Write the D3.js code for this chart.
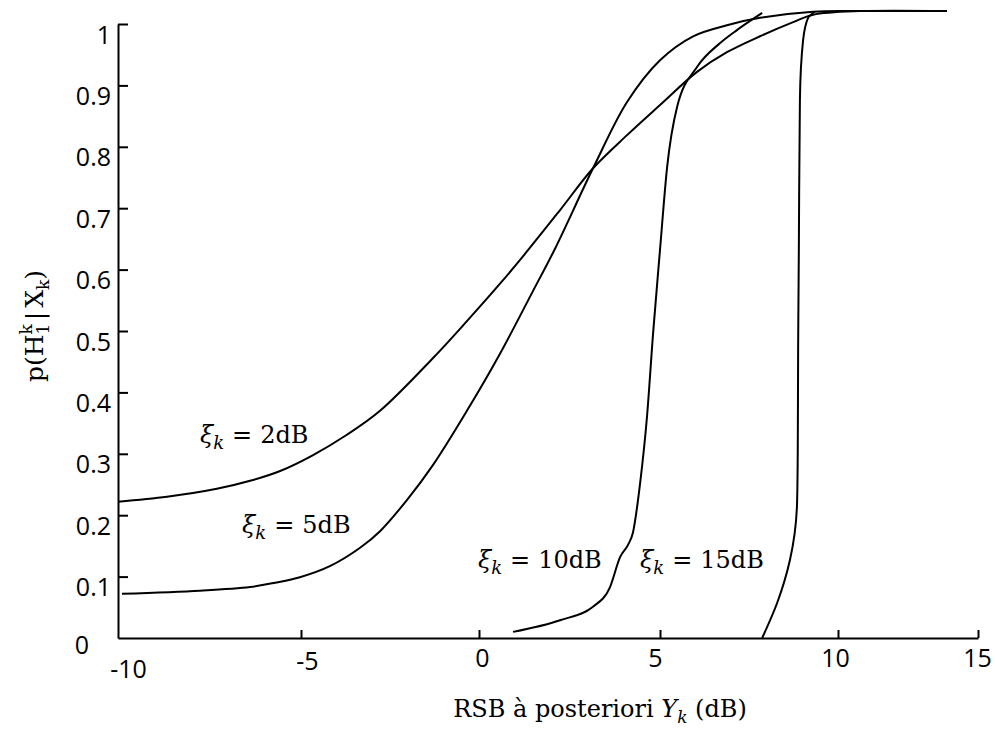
<!DOCTYPE html>
<html>
<head>
<meta charset="utf-8">
<script src="https://cdn.jsdelivr.net/npm/d3@7"></script>
<style>
  body { margin: 0; background: #fff; }
  svg { display: block; }
</style>
</head>
<body>
<script>
// values
var xTicks = [-10, -5, 0, 5, 10, 15];
var yTicks = [0, 0.1, 0.2, 0.3, 0.4, 0.5, 0.6, 0.7, 0.8, 0.9, 1];

var xiLabels = ["2", "5", "10", "15"];   // xi_k in dB

var snr2  = [-10, -8.66, -7.30, -6.39, -5.57, -4.66, -3.71, -2.78, -1.29, -0.34, 0.58, 1.22, 2.24, 3.15, 4.09, 5.00, 6.04, 6.88, 7.81, 8.74, 9.30, 10.79, 13.89];
var prob2 = [0.222, 0.230, 0.243, 0.256, 0.272, 0.298, 0.331, 0.370, 0.456, 0.516, 0.577, 0.622, 0.697, 0.765, 0.819, 0.868, 0.922, 0.954, 0.980, 1.003, 1.015, 1.021, 1.021];

var snr5  = [-9.89, -7.76, -6.39, -5.71, -5.03, -4.19, -3.34, -2.78, -2.02, -1.29, -0.34, 0.58, 1.49, 2.10, 3.15, 4.09, 5.00, 5.93, 6.88, 7.81, 9.30, 10.79, 13.89];
var prob5 = [0.072, 0.077, 0.083, 0.090, 0.099, 0.117, 0.147, 0.174, 0.225, 0.282, 0.370, 0.463, 0.565, 0.634, 0.765, 0.873, 0.941, 0.980, 0.998, 1.010, 1.020, 1.021, 1.021];

var snr10  = [0.94, 2.24, 3.15, 3.62, 3.90, 4.12, 4.25, 4.45, 4.64, 4.81, 5.00, 5.20, 5.48, 6.04, 6.69, 7.16, 7.87];
var prob10 = [0.010, 0.029, 0.051, 0.083, 0.132, 0.152, 0.171, 0.252, 0.360, 0.497, 0.632, 0.767, 0.865, 0.930, 0.969, 0.990, 1.018];

var snr15  = [7.87, 8.29, 8.65, 8.85, 8.87, 8.88, 8.90, 8.93, 9.02, 9.16, 9.35];
var prob15 = [0, 0.057, 0.127, 0.220, 0.306, 0.469, 0.632, 0.876, 0.974, 1.010, 1.020];

// where each curve label sits, in chart units (start of text, baseline)
var labelSnr  = [-7.76, -6.61, -0.03, 4.45];
var labelProb = [0.318, 0.171, 0.114, 0.114];

var W = 995, H = 731;

// the x axis of the original is not evenly spaced, so a polylinear scale
var xRange = [118, 301, 479, 660, 838, 978];
var x = d3.scaleLinear().domain(xTicks).range(xRange);
var y = d3.scaleLinear().domain([0, 1]).range([638, 24]);

var svg = d3.select("body").append("svg")
  .attr("width", W)
  .attr("height", H);

var serif = "'DejaVu Serif', 'Liberation Serif', serif";
var sans = "'Open Sans', 'Liberation Sans', sans-serif";

// x axis
var xAxis = svg.append("g")
  .attr("transform", "translate(0," + y(0) + ")")
  .call(d3.axisBottom(x).tickValues(xTicks).tickSize(-8).tickSizeOuter(0)
    .tickFormat(function(d) { return String(d); }));

xAxis.select(".domain").attr("stroke", "#000").attr("stroke-width", 2);
xAxis.selectAll(".tick line").attr("stroke", "#000").attr("stroke-width", 2);
xAxis.selectAll(".tick line").filter(function(d) { return d === -10; }).remove();
// label nudges so they land where the original put them
var xNudge = {"-10": [10, 11], "-5": [6, 3], "0": [3, 0], "5": [-5, 0], "10": [-3, 0], "15": [-1, 0]};
xAxis.selectAll(".tick text")
  .attr("font-family", sans)
  .attr("font-size", 25)
  .attr("fill", "#000")
  .attr("dy", null)
  .attr("x", function(d) { return xNudge[d][0]; })
  .attr("y", function(d) { return 29 + xNudge[d][1]; });

// y axis
var yAxis = svg.append("g")
  .attr("transform", "translate(" + xRange[0] + ",0)")
  .call(d3.axisLeft(y).tickValues(yTicks).tickSize(-10).tickSizeOuter(0).tickPadding(7)
    .tickFormat(function(d) { return String(d); }));

yAxis.select(".domain").attr("stroke", "#000").attr("stroke-width", 2);
yAxis.selectAll(".tick line").attr("stroke", "#000").attr("stroke-width", 2);
yAxis.selectAll(".tick line").filter(function(d) { return d === 0; }).remove();
yAxis.selectAll(".tick text")
  .attr("font-family", sans)
  .attr("font-size", 25)
  .attr("fill", "#000")
  .attr("dy", null)
  .attr("y", function(d) { return d === 0 ? 15 : 19; })
  .attr("x", function(d) { return d === 0 ? -29 : -7; });

// curves; the near-vertical 15 dB one is smoothed along y
var series = [
  {snr: snr2, prob: prob2, curve: d3.curveCatmullRom.alpha(0.5)},
  {snr: snr5, prob: prob5, curve: d3.curveCatmullRom.alpha(0.5)},
  {snr: snr10, prob: prob10, curve: d3.curveMonotoneX},
  {snr: snr15, prob: prob15, curve: d3.curveMonotoneY}
];

svg.append("g").selectAll("path")
  .data(series)
  .enter()
  .append("path")
  .attr("d", function(s) {
    return d3.line()
      .x(function(d) { return x(d[0]); })
      .y(function(d) { return y(d[1]); })
      .curve(s.curve)(d3.zip(s.snr, s.prob));
  })
  .attr("fill", "none")
  .attr("stroke", "#000")
  .attr("stroke-width", 2);

// curve labels  xi_k = ..dB
var lab = svg.append("g").selectAll("text")
  .data(xiLabels)
  .enter()
  .append("text")
  .attr("x", function(d, i) { return x(labelSnr[i]); })
  .attr("y", function(d, i) { return y(labelProb[i]); })
  .attr("font-family", serif)
  .attr("font-size", 24)
  .attr("fill", "#000");

lab.append("tspan").attr("font-style", "italic").text("ξ");
lab.append("tspan").attr("font-style", "italic").attr("font-size", 18).attr("dy", 6).text("k");
lab.append("tspan").attr("dy", -6).attr("dx", 8).text("=");
lab.append("tspan").attr("dx", 8).text(function(d) { return d + "dB"; });

// x title
var xt = svg.append("text")
  .attr("x", 600)
  .attr("y", 717)
  .attr("text-anchor", "middle")
  .attr("font-family", serif)
  .attr("font-size", 24)
  .attr("fill", "#000");
xt.append("tspan").text("RSB à posteriori ");
xt.append("tspan").attr("font-style", "italic").text("Υ");
xt.append("tspan").attr("font-style", "italic").attr("font-size", 17).attr("dy", 6).text("k");
xt.append("tspan").attr("dy", -6).text(" (dB)");

// y title, built piece by piece so H gets a stacked sub/superscript
var yt = svg.append("g").attr("transform", "translate(43,326) rotate(-90)");
var big = 25, small = 17;
var parts = [
  {t: "p(H", size: big, dy: 0},
  {t: "1", size: small, dy: 6, stack: true},
  {t: "k", size: small, dy: -11},
  {t: "|", size: big, dy: 0, pad: 4},
  {t: "X", size: big, dy: 0},
  {t: "k", size: small, dy: 6},
  {t: ")", size: big, dy: 0}
];
var cx = 0, nodes = [];
parts.forEach(function(p) {
  if (p.pad) cx += p.pad;
  var t = yt.append("text")
    .attr("x", cx)
    .attr("y", p.dy)
    .attr("font-family", serif)
    .attr("font-size", p.size)
    .attr("fill", "#000")
    .text(p.t);
  var w = t.node().getComputedTextLength();
  if (!p.stack) cx += w;
  if (p.pad) cx += p.pad;
  nodes.push(t);
});
nodes.forEach(function(t) { t.attr("x", +t.attr("x") - cx / 2); });
</script>
</body>
</html>
